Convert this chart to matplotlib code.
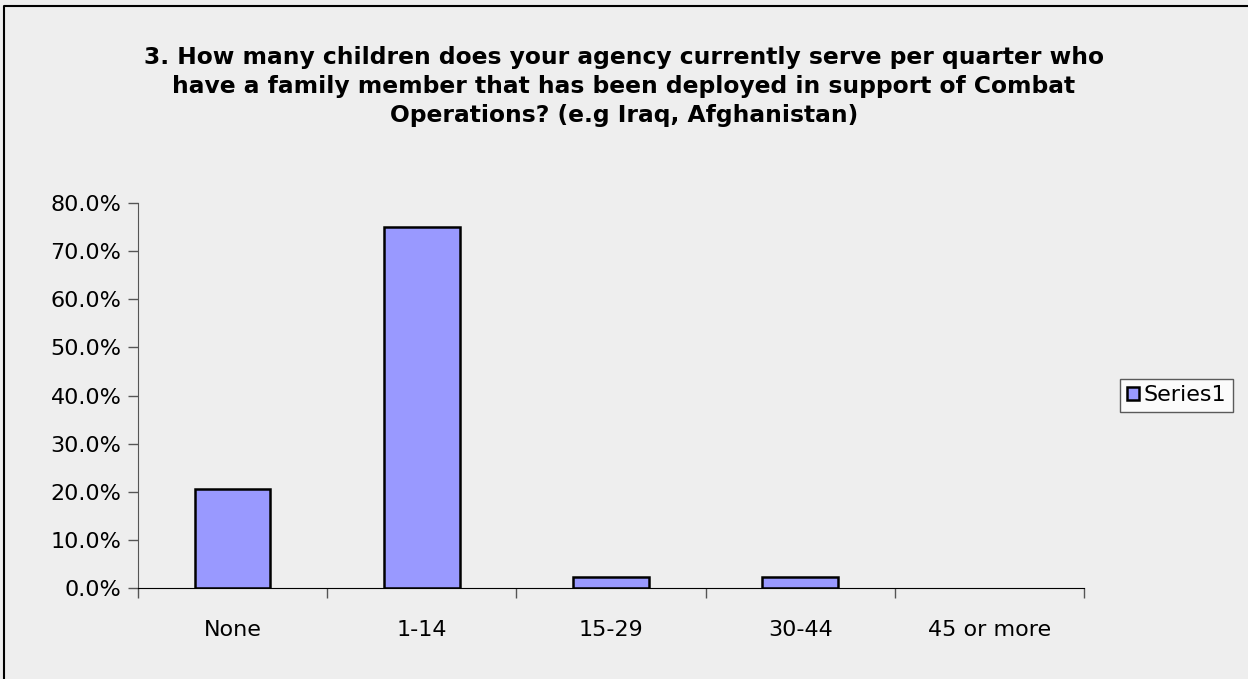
import matplotlib
matplotlib.use('Agg')
import matplotlib.pyplot as plt
from matplotlib.lines import Line2D
from matplotlib.ticker import FuncFormatter

categories = ['None', '1-14', '15-29', '30-44', '45 or more']
values = [20.5, 75.0, 2.3, 2.3, 0.0]
series_name = 'Series1'
title = ('3. How many children does your agency currently serve per quarter who\n'
         'have a family member that has been deployed in support of Combat\n'
         'Operations? (e.g Iraq, Afghanistan)')

bg = '#eeeeee'
bar_color = '#9999ff'

fig = plt.figure(figsize=(12.48, 6.79), dpi=100, facecolor=bg)
# chart border (only top and left edges are visible in the source)
fig.lines.append(Line2D([0.0035, 0.0035, 1.0], [0.0, 0.9905, 0.9905], transform=fig.transFigure,
                        color='black', linewidth=1.5))

ax = fig.add_axes([0.1106, 0.134, 0.758, 0.567])
ax.set_facecolor(bg)

x = list(range(len(categories)))
edges = ['black' if v > 0 else 'none' for v in values]
ax.bar(x, values, width=0.4, color=bar_color, edgecolor=edges, linewidth=1.8, label=series_name)

ax.set_xlim(-0.5, len(categories) - 0.5)
ax.set_ylim(0, 80)
ax.set_yticks(range(0, 81, 10))
ax.yaxis.set_major_formatter(FuncFormatter(lambda v, p: f'{v:.1f}%'))
ax.set_xticks(x)
ax.set_xticklabels(categories)
ax.set_xticks([i + 0.5 for i in range(-1, len(categories))], minor=True)
ax.tick_params(axis='x', which='major', length=0, pad=23, labelsize=16)
ax.tick_params(axis='x', which='minor', length=7, width=1, color='#555555')
ax.tick_params(axis='y', length=7, width=1, color='#555555', labelsize=16, pad=5)

for s in ['top', 'right']:
    ax.spines[s].set_visible(False)
ax.spines['left'].set_color('#555555')
ax.spines['bottom'].set_color('black')

fig.text(0.5, 0.932, title, ha='center', va='top', fontsize=16.8, fontweight='bold',
         linespacing=1.33)

leg = fig.legend(loc='center', bbox_to_anchor=(0.9427, 0.418), fontsize=16, frameon=True,
                 fancybox=False, edgecolor='#333333', facecolor='white', handlelength=0.55,
                 handleheight=0.55, handletextpad=0.2, borderpad=0.3, borderaxespad=0)
leg.get_frame().set_linewidth(1)

plt.savefig('out.png', dpi=100, facecolor=bg)
plt.close()
